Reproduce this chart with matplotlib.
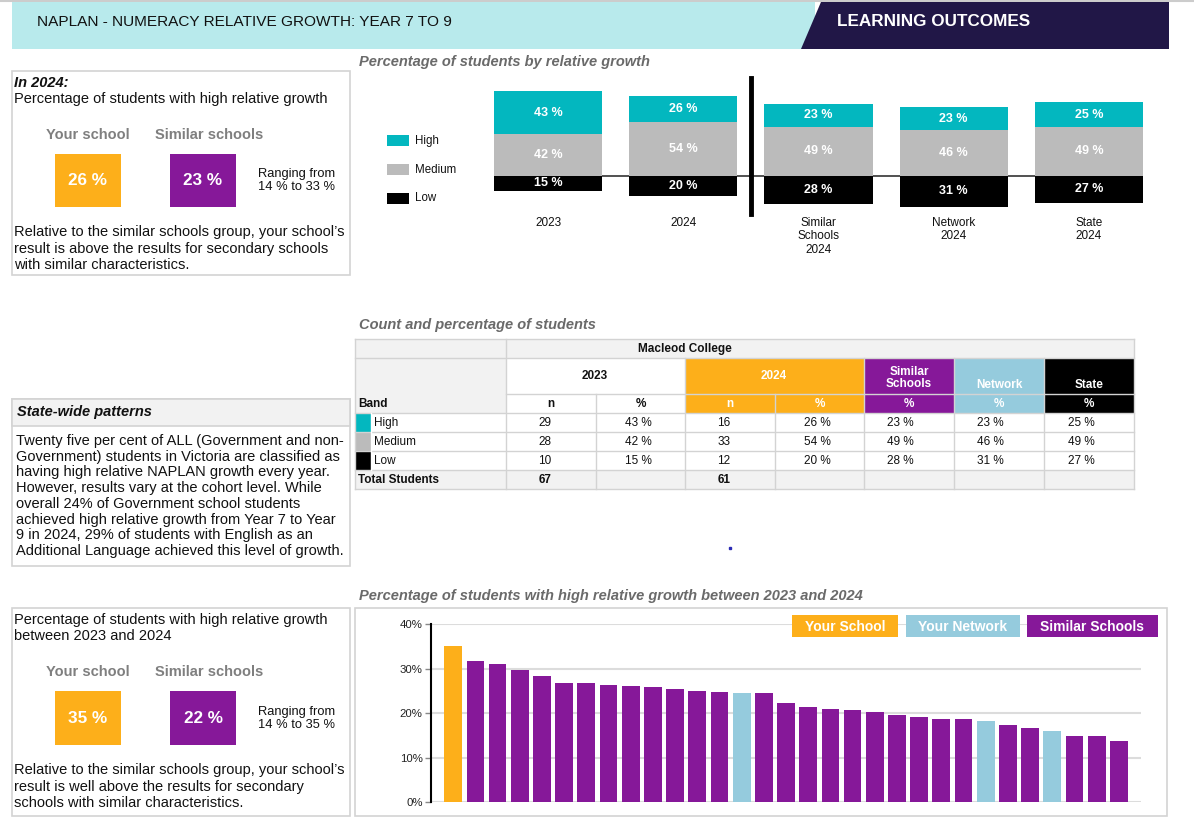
import matplotlib
matplotlib.use("Agg")
import matplotlib.pyplot as plt
from matplotlib.patches import Rectangle, Polygon

plt.rcParams['font.family'] = ['Liberation Sans', 'DejaVu Sans']

# ---------------- data ----------------
groups = ["2023", "2024", "Similar\nSchools\n2024", "Network\n2024", "State\n2024"]
high = [43, 26, 23, 23, 25]
medium = [42, 54, 49, 46, 49]
low = [15, 20, 28, 31, 27]

bands = ["High", "Medium", "Low"]
n_2023 = [29, 28, 10]
n_2024 = [16, 33, 12]
total_2023 = 67
total_2024 = 61

growth_values = [35.1, 31.7, 30.9, 29.6, 28.3, 26.8, 26.7, 26.3, 26.0, 25.9, 25.3,
                 24.9, 24.7, 24.6, 24.4, 22.3, 21.3, 21.0, 20.7, 20.2, 19.6, 19.2,
                 18.6, 18.6, 18.1, 17.2, 16.6, 15.9, 14.9, 14.8, 13.8]
growth_groups = ["school"] + ["similar"] * 12 + ["network"] + ["similar"] * 10 + \
                ["network"] + ["similar"] * 2 + ["network"] + ["similar"] * 3
yticks = [0, 10, 20, 30, 40]

summary_2024 = {"school": 26, "similar": 23, "range": (14, 33)}
summary_growth = {"school": 35, "similar": 22, "range": (14, 35)}

# ---------------- colours ----------------
C_HIGH = "#03b7bf"
C_MED = "#bbbbbb"
C_LOW = "#000000"
C_ORANGE = "#fdaf1a"
C_PURPLE = "#861899"
C_LBLUE = "#95cbdd"
C_NAVY = "#211747"
C_HEAD = "#b8eaec"
C_GRID = "#d3d3d3"
C_TITLE = "#6a6a6a"
C_FILL = "#f2f2f2"
group_color = {"school": C_ORANGE, "similar": C_PURPLE, "network": C_LBLUE}

BODY = 10.5
TS = 8.5

W, H = 1194, 822
fig = plt.figure(figsize=(W / 100, H / 100), dpi=100)
bg = fig.add_axes([0, 0, 1, 1])
bg.set_xlim(0, W)
bg.set_ylim(H, 0)
bg.axis("off")


def rect(x0, y0, x1, y1, fc="none", ec="none", lw=1.0, z=1, ax=None):
    (ax or bg).add_patch(Rectangle((x0, y0), x1 - x0, y1 - y0, facecolor=fc, edgecolor=ec, lw=lw, zorder=z))


def txt(x, y, s, size=BODY, ha="left", va="center", ax=None, **kw):
    (ax or bg).text(x, y, s, fontsize=size, ha=ha, va=va, **kw)


# ---------------- header ----------------
bg.plot([0, W], [1, 1], color="#cccccc", lw=1.5, zorder=1)
rect(12, 2, 815, 49, fc=C_HEAD, z=1)
bg.add_patch(Polygon([[821, 2], [1169, 2], [1169, 49], [801, 49]], closed=True,
                     facecolor=C_NAVY, edgecolor="none", zorder=2))
txt(37, 22, "NAPLAN - NUMERACY RELATIVE GROWTH: YEAR 7 TO 9", size=11.1, color="#111111")
txt(837, 22, "LEARNING OUTCOMES", size=12.3, color="white", fontweight="bold")

# ---------------- section titles ----------------
TT = dict(size=10.5, color=C_TITLE, fontweight="bold", fontstyle="italic")
txt(359, 62, "Percentage of students by relative growth", **TT)
txt(359, 325, "Count and percentage of students", **TT)
txt(359, 596, "Percentage of students with high relative growth between 2023 and 2024", **TT)


# ---------------- left summary boxes ----------------
def summary_box(y0, y1, head_lines, head_y, label_y, box_y0, box_y1, vals, body_lines, body_y):
    rect(12, y0, 350, y1, ec=C_GRID, lw=1.2, z=1)
    for i, (s, kw) in enumerate(head_lines):
        txt(14, head_y[i], s, size=BODY, color="#111111", **kw)
    txt(88, label_y, "Your school", size=10.5, ha="center", color="#7f7f7f", fontweight="bold")
    txt(209, label_y, "Similar schools", size=10.5, ha="center", color="#7f7f7f", fontweight="bold")
    cy = (box_y0 + box_y1) / 2
    rect(55, box_y0, 121, box_y1, fc=C_ORANGE, z=2)
    rect(170, box_y0, 236, box_y1, fc=C_PURPLE, z=2)
    txt(88, cy, f"{vals['school']} %", size=12.3, ha="center", color="white", fontweight="bold", zorder=3)
    txt(203, cy, f"{vals['similar']} %", size=12.3, ha="center", color="white", fontweight="bold", zorder=3)
    lo, hi = vals["range"]
    txt(297, cy - 6.5, "Ranging from", size=9.3, ha="center", color="#111111")
    txt(297, cy + 7, f"{lo} % to {hi} %", size=9.3, ha="center", color="#111111")
    for i, s in enumerate(body_lines):
        txt(14, body_y + i * 16.5, s, size=BODY, color="#111111")


summary_box(71, 275,
            [("In 2024:", dict(fontweight="bold", fontstyle="italic")),
             ("Percentage of students with high relative growth", {})],
            [83, 99], 135, 154, 207, summary_2024,
            ["Relative to the similar schools group, your school\u2019s",
             "result is above the results for secondary schools",
             "with similar characteristics."], 232)

summary_box(608, 816,
            [("Percentage of students with high relative growth", {}),
             ("between 2023 and 2024", {})],
            [620, 636], 672, 691, 745, summary_growth,
            ["Relative to the similar schools group, your school\u2019s",
             "result is well above the results for secondary",
             "schools with similar characteristics."], 770)

# State-wide patterns
rect(12, 399, 350, 566, ec=C_GRID, lw=1.2, z=1)
rect(12, 399, 350, 426, fc=C_FILL, ec=C_GRID, lw=1.2, z=1)
txt(17, 412, "State-wide patterns", size=10.5, color="#111111", fontweight="bold", fontstyle="italic")
state_lines = ["Twenty five per cent of ALL (Government and non-",
               "Government) students in Victoria are classified as",
               "having high relative NAPLAN growth every year.",
               "However, results vary at the cohort level. While",
               "overall 24% of Government school students",
               "achieved high relative growth from Year 7 to Year",
               "9 in 2024, 29% of students with English as an",
               "Additional Language achieved this level of growth."]
for i, s in enumerate(state_lines):
    txt(16, 441 + i * 15.7, s, size=BODY, color="#111111")

# ---------------- stacked bar chart ----------------
ax1 = fig.add_axes([494 / W, 1 - 216 / H, (1143 - 494) / W, 140 / H])
ax1.set_xlim(-0.4, 4.4)
ax1.set_ylim(-40, 100)
ax1.axis("off")
xs = list(range(len(groups)))
ax1.axhline(0, color="#333333", lw=1.2, zorder=1)
ax1.bar(xs, [-v for v in low], width=0.8, color=C_LOW, zorder=2)
ax1.bar(xs, medium, width=0.8, color=C_MED, zorder=2)
ax1.bar(xs, high, width=0.8, bottom=medium, color=C_HIGH, zorder=2)
for x, h, m, l in zip(xs, high, medium, low):
    for yv, v in [(m + h / 2, h), (m / 2, m), (-l / 2, l)]:
        ax1.text(x, yv, f"{v} %", ha="center", va="center", color="white",
                 fontsize=9, fontweight="bold", zorder=3)
for x, g in zip(xs, groups):
    ax1.text(x, -41, g, ha="center", va="top", fontsize=8.5, color="#111111", linespacing=1.15)
ax1.plot([1.5, 1.5], [-38, 98], color="black", lw=3.5, zorder=4, clip_on=False)

# legend for stacked chart
for (lab, col, yy) in [("High", C_HIGH, 141), ("Medium", C_MED, 170), ("Low", C_LOW, 198)]:
    rect(387, yy - 5.5, 409, yy + 5.5, fc=col, z=2)
    txt(415, yy, lab, size=8.3, color="#111111")

# ---------------- table ----------------
rows_y = [339, 358, 394, 413, 432, 451, 470, 489]
cols_x = [355, 506, 596, 685, 775, 864, 954, 1044, 1134]
rect(355, 339, 1134, 358, fc=C_FILL, z=1)
txt((506 + 864) / 2, 348.5, "Macleod College", size=TS, ha="center", fontweight="bold", color="#111111")
rect(355, 358, 506, 413, fc=C_FILL, z=1)
txt(358, 404, "Band", size=TS, fontweight="bold", color="#111111")
rect(685, 358, 864, 413, fc=C_ORANGE, z=1)
rect(864, 358, 954, 413, fc=C_PURPLE, z=1)
rect(954, 358, 1044, 413, fc=C_LBLUE, z=1)
rect(1044, 358, 1134, 413, fc=C_LOW, z=1)
txt(595, 376, "2023", size=TS, ha="center", fontweight="bold", color="#111111")
txt(774, 376, "2024", size=TS, ha="center", fontweight="bold", color="white")
txt(909, 378, "Similar\nSchools", size=TS, ha="center", fontweight="bold", color="white", linespacing=0.95)
txt(999, 385, "Network", size=TS, ha="center", fontweight="bold", color="white")
txt(1089, 385, "State", size=TS, ha="center", fontweight="bold", color="white")
sub_heads = ["n", "%", "n", "%", "%", "%", "%"]
sub_cols = ["#111111", "#111111", "white", "white", "white", "white", "white"]
for i, (s, c) in enumerate(zip(sub_heads, sub_cols)):
    txt((cols_x[i + 1] + cols_x[i + 2]) / 2, 403.5, s, size=TS, ha="center", fontweight="bold", color=c)

band_cols = [C_HIGH, C_MED, C_LOW]
for r in range(3):
    y0, y1 = rows_y[3 + r], rows_y[4 + r]
    cy = (y0 + y1) / 2
    band_pct = [high, medium, low][r]
    rect(355, y0, 371, y1, fc=band_cols[r], z=2)
    txt(374, cy, bands[r], size=TS, color="#111111")
    cells = [str(n_2023[r]), f"{band_pct[0]} %", str(n_2024[r]), f"{band_pct[1]} %",
             f"{band_pct[2]} %", f"{band_pct[3]} %", f"{band_pct[4]} %"]
    offs = [-6, -2, -6, -2, -9, -9, -8]
    for i, s in enumerate(cells):
        txt((cols_x[i + 1] + cols_x[i + 2]) / 2 + offs[i], cy, s, size=TS, ha="center", color="#111111")
rect(355, 470, 1134, 489, fc=C_FILL, z=1)
txt(358, 479.5, "Total Students", size=TS, fontweight="bold", color="#111111")
txt(545, 479.5, str(total_2023), size=TS, ha="center", fontweight="bold", color="#111111")
txt(724, 479.5, str(total_2024), size=TS, ha="center", fontweight="bold", color="#111111")

LG = dict(color=C_GRID, lw=1.0, zorder=5)
for y in [339, 358, 413, 432, 451, 470, 489]:
    bg.plot([355, 1134], [y, y], **LG)
bg.plot([506, 1134], [394, 394], **LG)
for x in [355, 506, 1134]:
    bg.plot([x, x], [339, 489], **LG)
for x in [685, 864, 954, 1044]:
    bg.plot([x, x], [358, 489], **LG)
for x in [596, 775]:
    bg.plot([x, x], [394, 489], **LG)
bg.plot([371, 371], [413, 470], color="white", lw=1.0, zorder=5)

# stray dot
bg.plot([730], [548], marker="s", ms=1.6, color="#2b2bb5", zorder=5)

# ---------------- bottom bar chart ----------------
rect(355, 608, 1167, 816, ec=C_GRID, lw=1.2, z=1)
ax2 = fig.add_axes([431 / W, 1 - 802 / H, (1141 - 431) / W, (802 - 624) / H])
ax2.set_xlim(-1, len(growth_values))
ax2.set_ylim(0, 40)
gx = list(range(len(growth_values)))
ax2.bar(gx, growth_values, width=0.8, color=[group_color[g] for g in growth_groups], zorder=3)
ax2.set_yticks(yticks)
ax2.set_yticklabels([f"{v}%" for v in yticks], fontsize=8.2, color="#222222")
ax2.yaxis.grid(True, color="#dcdcdc", lw=1.5, zorder=0)
ax2.set_axisbelow(True)
ax2.set_xticks([])
for s in ["top", "right", "bottom"]:
    ax2.spines[s].set_visible(False)
ax2.spines["left"].set_color("black")
ax2.spines["left"].set_linewidth(1.5)
ax2.tick_params(axis="y", length=4, width=1, color="#888888", pad=2)
ax2.patch.set_alpha(0)

# legend boxes on an overlay above the bar chart
ov = fig.add_axes([0, 0, 1, 1])
ov.set_xlim(0, W)
ov.set_ylim(H, 0)
ov.axis("off")
ov.patch.set_alpha(0)
for lab, col, x0, x1 in [("Your School", C_ORANGE, 792, 898),
                         ("Your Network", C_LBLUE, 906, 1020),
                         ("Similar Schools", C_PURPLE, 1027, 1158)]:
    rect(x0, 615, x1, 637, fc=col, z=6, ax=ov)
    txt((x0 + x1) / 2, 626.5, lab, size=10, ha="center", color="white", fontweight="bold", zorder=7, ax=ov)

fig.savefig("out.png", dpi=100)
